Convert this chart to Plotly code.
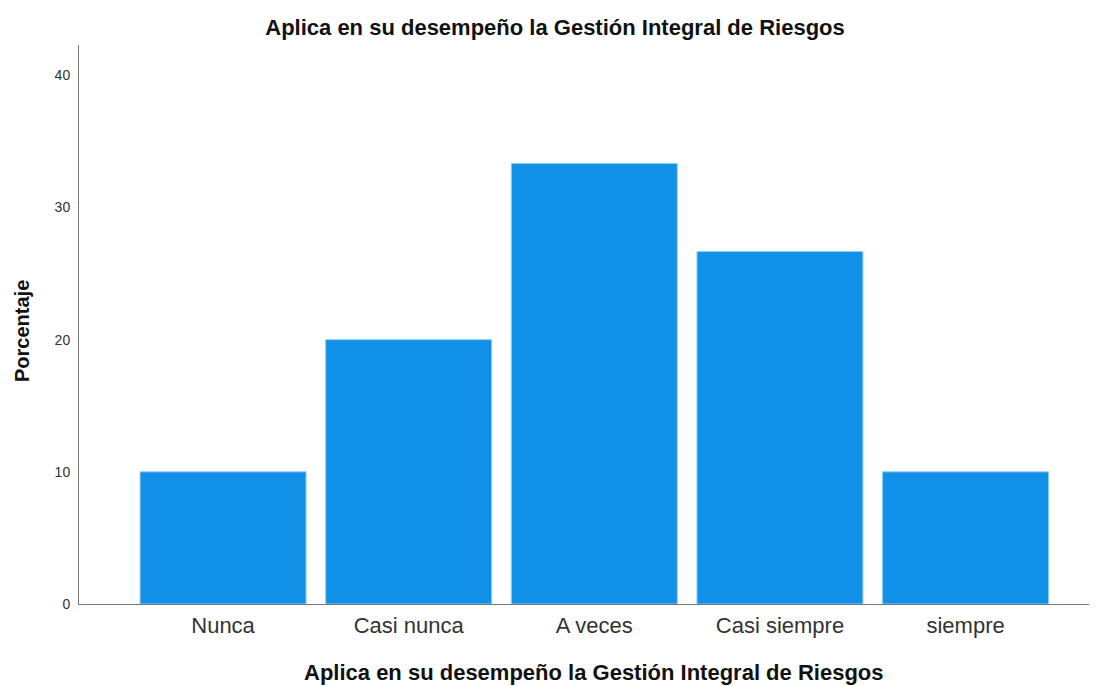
import plotly.graph_objects as go

categories = ["Nunca", "Casi nunca", "A veces", "Casi siempre", "siempre"]
percentages = [10.0, 20.0, 33.33, 26.67, 10.0]
y_ticks = [0, 10, 20, 30, 40]
title_text = "Aplica en su desempeño la Gestión Integral de Riesgos"

# page body has an 8px margin; compensate so the figure fills the 1097x686 window
OFF = 8
W, H = 1097 - OFF, 686 - OFF

fig = go.Figure()
fig.add_trace(go.Bar(
    x=categories,
    y=percentages,
    width=0.894,
    marker=dict(color="#1190e7", line=dict(color="#8ccaf4", width=1)),
))

fig.update_layout(
    width=W, height=H,
    margin=dict(l=79 - OFF, r=0, t=45 - OFF, b=82),
    paper_bgcolor="white", plot_bgcolor="white",
    font=dict(family="Liberation Sans, Arial, sans-serif", color="#222"),
    showlegend=False,
    title=dict(text="<b>" + title_text + "</b>", x=(555 - OFF) / W, xref="container", xanchor="center",
               y=1 - (27 - OFF) / H, yref="container", yanchor="middle",
               font=dict(size=22, color="#111")),
    xaxis=dict(range=[-0.776, 4.708], showline=True, linecolor="#777", linewidth=1,
               ticks="", showgrid=False, zeroline=False, ticklabelstandoff=2,
               tickfont=dict(size=22, color="#333")),
    yaxis=dict(range=[0, 42.3], tickvals=y_ticks, showline=True, linecolor="#777", linewidth=1,
               ticks="", showgrid=False, zeroline=False, ticklabelstandoff=5,
               tickfont=dict(size=14, color="#333")),
    annotations=[
        dict(text="<b>" + title_text + "</b>", xref="x", x=2, yref="paper", y=-68 / 559,
             xanchor="center", yanchor="middle", showarrow=False,
             font=dict(size=22, color="#111")),
        dict(text="<b>Porcentaje</b>", xref="paper", x=(22 - 79) / 1018, yref="paper", y=(604 - 331) / 559,
             xanchor="center", yanchor="middle", textangle=-90, showarrow=False,
             font=dict(size=20, color="#111")),
    ],
)

fig.write_html("out.html")
